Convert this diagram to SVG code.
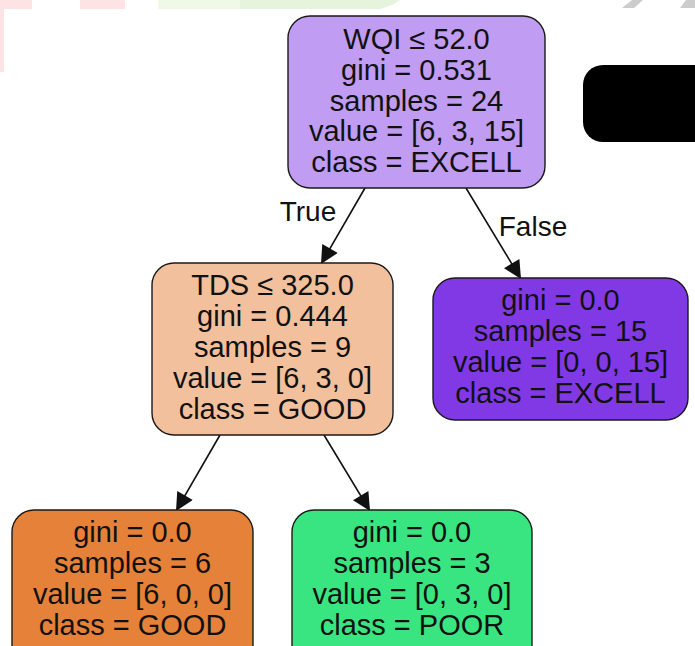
<svg xmlns="http://www.w3.org/2000/svg" width="695" height="646" viewBox="0 0 695 646">
  <style>
    .node rect { stroke: #1a1a1a; stroke-width: 1.4; }
    .node text { font-family: "Liberation Sans", Arial, sans-serif; font-size: 29px; fill: #111; text-anchor: middle; }
    .edge line { stroke: #111; stroke-width: 1.6; }
    .elabel { font-family: "Liberation Sans", Arial, sans-serif; font-size: 28px; fill: #111; text-anchor: middle; }
  </style>
  <defs>
    <marker id="arrow" viewBox="0 0 10 10" refX="10" refY="5" markerUnits="userSpaceOnUse" markerWidth="20" markerHeight="18" orient="auto">
      <path d="M0,0 L10,5 L0,10 z" fill="#111"/>
    </marker>
  </defs>
  <rect x="0" y="0" width="695" height="646" fill="#ffffff"/>
  <g id="watermark">
    <rect x="0" y="0" width="32" height="9" fill="#fde3e3"/>
    <rect x="0" y="0" width="4" height="72" fill="#fde3e3"/>
    <rect x="80" y="0" width="45" height="9" fill="#fde3e3"/>
    <rect x="158" y="0" width="82" height="9" fill="#f0f9e8"/>
    <path d="M240,0 L400,0 Q392,6 380,9 L240,9 z" fill="#e6f3dd"/>
    <path d="M622,8 L632,0 L643,0 L634,8 z" fill="#cccccc"/>
    <path d="M680,8 L686,0 L695,0 L695,8 z" fill="#cccccc"/>
  </g>
  <g id="edges" class="edge">
    <line x1="365" y1="188" x2="321" y2="264" marker-end="url(#arrow)"/>
    <line x1="466" y1="188" x2="521" y2="279" marker-end="url(#arrow)"/>
    <line x1="220" y1="435" x2="176" y2="511" marker-end="url(#arrow)"/>
    <line x1="324" y1="435" x2="370" y2="511" marker-end="url(#arrow)"/>
    <text class="elabel" x="308" y="221">True</text>
    <text class="elabel" x="533" y="236">False</text>
  </g>
  <g id="root" class="node">
    <rect x="288" y="16" width="257" height="172" rx="22" fill="#c09cf2"/>
    <text x="416.5" y="48.5">WQI ≤ 52.0</text>
    <text x="416.5" y="79.5">gini = 0.531</text>
    <text x="416.5" y="110.5">samples = 24</text>
    <text x="416.5" y="141">value = [6, 3, 15]</text>
    <text x="416.5" y="172">class = EXCELL</text>
  </g>
  <g id="tds" class="node">
    <rect x="152" y="263" width="241" height="172" rx="22" fill="#f2c09c"/>
    <text x="272.5" y="295">TDS ≤ 325.0</text>
    <text x="272.5" y="326">gini = 0.444</text>
    <text x="272.5" y="357">samples = 9</text>
    <text x="272.5" y="388">value = [6, 3, 0]</text>
    <text x="272.5" y="418.5">class = GOOD</text>
  </g>
  <g id="excell_leaf" class="node">
    <rect x="433" y="278" width="255" height="142" rx="22" fill="#8139e5"/>
    <text x="560.5" y="310">gini = 0.0</text>
    <text x="560.5" y="341">samples = 15</text>
    <text x="560.5" y="372">value = [0, 0, 15]</text>
    <text x="560.5" y="402.5">class = EXCELL</text>
  </g>
  <g id="good_leaf" class="node">
    <rect x="12" y="510" width="241" height="160" rx="22" fill="#e58139"/>
    <text x="132.5" y="542">gini = 0.0</text>
    <text x="132.5" y="573">samples = 6</text>
    <text x="132.5" y="604">value = [6, 0, 0]</text>
    <text x="132.5" y="634.5">class = GOOD</text>
  </g>
  <g id="poor_leaf" class="node">
    <rect x="292" y="510" width="240" height="160" rx="22" fill="#39e581"/>
    <text x="412" y="542">gini = 0.0</text>
    <text x="412" y="573">samples = 3</text>
    <text x="412" y="604">value = [0, 3, 0]</text>
    <text x="412" y="634.5">class = POOR</text>
  </g>
  <g id="black_box">
    <rect x="583" y="65" width="140" height="77" rx="20" fill="#000000"/>
  </g>
</svg>
